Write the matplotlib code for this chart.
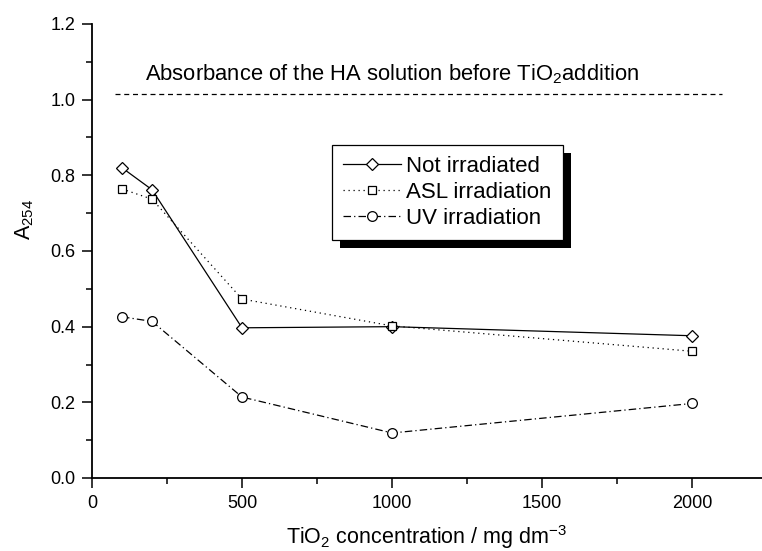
"""A254 absorbance of HA solution versus TiO2 concentration."""

import matplotlib
matplotlib.use("Agg")
import matplotlib.pyplot as plt
from matplotlib.patches import Rectangle
from matplotlib.ticker import MultipleLocator

plt.rcParams["font.family"] = ["Liberation Sans", "DejaVu Sans"]
plt.rcParams["mathtext.fontset"] = "custom"
plt.rcParams["mathtext.rm"] = "Liberation Sans"
plt.rcParams["mathtext.it"] = "Liberation Sans:italic"
plt.rcParams["mathtext.bf"] = "Liberation Sans:bold"

conc = [100, 200, 500, 1000, 2000]
not_irradiated = [0.820, 0.762, 0.397, 0.400, 0.376]
asl_irradiation = [0.764, 0.737, 0.473, 0.402, 0.335]
uv_irradiation = [0.426, 0.414, 0.214, 0.119, 0.197]

ref_x = [75, 2100]
ref_level = 1.015
ref_label = r"Absorbance of the HA solution before TiO$_2$addition"

fig = plt.figure(figsize=(7.62, 5.51), dpi=100)
ax = fig.add_axes([92 / 762, 1 - 478 / 551, 1 - 92 / 762, (478 - 24) / 551])

ax.plot(conc, not_irradiated, color="black", lw=0.9, ls="-",
        marker="D", ms=6.5, mfc="white", mec="black", mew=0.9,
        label="Not irradiated")
ax.plot(conc, asl_irradiation, color="black", lw=0.9, ls=(0, (1, 3)),
        marker="s", ms=6, mfc="white", mec="black", mew=0.9,
        label="ASL irradiation")
ax.plot(conc, uv_irradiation, color="black", lw=0.9, ls=(0, (6, 2.5, 1, 2.5)),
        marker="o", ms=7, mfc="white", mec="black", mew=0.9,
        label="UV irradiation")

ax.plot(ref_x, [ref_level, ref_level], color="black", lw=0.9, ls=(0, (4, 3)))
ax.text(177, 1.066, ref_label, fontsize=15.8, ha="left", va="center")

ax.set_xlim(0, 2233)
ax.set_ylim(0, 1.2)
ax.xaxis.set_major_locator(MultipleLocator(500))
ax.xaxis.set_minor_locator(MultipleLocator(250))
ax.yaxis.set_major_locator(MultipleLocator(0.2))
ax.yaxis.set_minor_locator(MultipleLocator(0.1))
ax.yaxis.set_major_formatter(plt.FuncFormatter(lambda v, p: f"{v:.1f}"))

for side in ("top", "right"):
    ax.spines[side].set_visible(False)
for side in ("left", "bottom"):
    ax.spines[side].set_linewidth(1.3)
ax.tick_params(which="major", direction="out", length=7, width=1.1,
               labelsize=13, pad=5)
ax.tick_params(which="minor", direction="out", length=4.5, width=1.1)

ax.set_xlabel(r"TiO$_2$ concentration / mg dm$^{-3}$", fontsize=15.5, labelpad=8)
ax.set_ylabel(r"A$_{254}$", fontsize=15.5)
ax.yaxis.set_label_coords(-0.084, 0.57)

leg = ax.legend(loc="upper left", bbox_to_anchor=(332 / 762, 1 - 145 / 551),
                bbox_transform=fig.transFigure, fontsize=16, frameon=True,
                fancybox=False, edgecolor="black", framealpha=1,
                handlelength=2.6, handletextpad=0.25, labelspacing=0.22,
                borderpad=0.5, borderaxespad=0)
leg.get_frame().set_linewidth(0.9)
leg.set_zorder(6)

# solid black drop shadow, offset down-right like the original
fig.canvas.draw()
bb = leg.get_window_extent().transformed(fig.transFigure.inverted())
dx, dy = 8 / 762, 8 / 551
shadow = Rectangle((bb.x0 + dx, bb.y0 - dy), bb.width, bb.height,
                   transform=fig.transFigure, facecolor="black",
                   edgecolor="none", zorder=5.5, clip_on=False)
ax.add_artist(shadow)

fig.savefig("out.png", dpi=100)
